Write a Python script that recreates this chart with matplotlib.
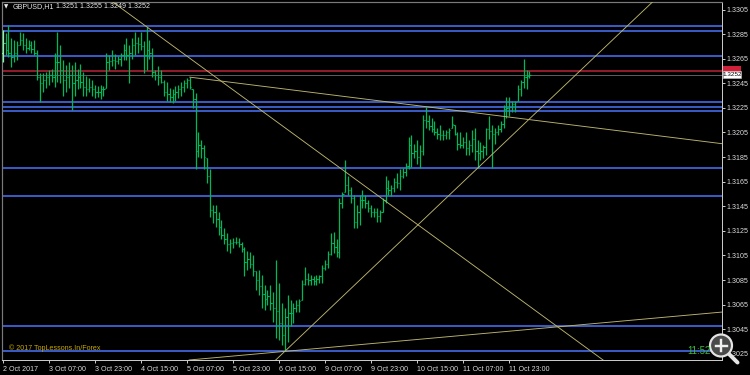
import numpy as np
import matplotlib
matplotlib.use("Agg")
import matplotlib.pyplot as plt
from matplotlib.patches import Circle, Rectangle

# ---------------- data ----------------
title_symbol = "GBPUSD,H1"
title_ohlc = "1.3251 1.3255 1.3249 1.3252"

highs = [
    1.3288, 1.3286, 1.3292, 1.3282, 1.3280, 1.3279, 1.3287, 1.3286, 1.3282, 1.3280,
    1.3279, 1.3280, 1.3272, 1.3253, 1.3253, 1.3254, 1.3256, 1.3257, 1.3270, 1.3287,
    1.3276, 1.3264, 1.3260, 1.3262, 1.3260, 1.3262, 1.3257, 1.3261, 1.3254, 1.3251,
    1.3249, 1.3248, 1.3244, 1.3243, 1.3244, 1.3243, 1.3270, 1.3268, 1.3272, 1.3269,
    1.3267, 1.3270, 1.3277, 1.3282, 1.3276, 1.3282, 1.3287, 1.3283, 1.3287, 1.3279,
    1.3291, 1.3280, 1.3274, 1.3256, 1.3259, 1.3256, 1.3248, 1.3246, 1.3241, 1.3240,
    1.3243, 1.3244, 1.3246, 1.3248, 1.3249, 1.3250, 1.3240, 1.3237, 1.3205, 1.3199,
    1.3195, 1.3184, 1.3175, 1.3146, 1.3146, 1.3140, 1.3134, 1.3127, 1.3123, 1.3118,
    1.3119, 1.3120, 1.3119, 1.3116, 1.3112, 1.3109, 1.3108, 1.3105, 1.3092, 1.3093,
    1.3089, 1.3081, 1.3077, 1.3081, 1.3075, 1.3101, 1.3083, 1.3066, 1.3062, 1.3073,
    1.3069, 1.3066, 1.3069, 1.3070, 1.3085, 1.3096, 1.3091, 1.3089, 1.3088, 1.3089,
    1.3089, 1.3097, 1.3101, 1.3109, 1.3123, 1.3124, 1.3118, 1.3152, 1.3157, 1.3183,
    1.3170, 1.3161, 1.3154, 1.3146, 1.3154, 1.3158, 1.3154, 1.3150, 1.3146, 1.3144,
    1.3144, 1.3142, 1.3152, 1.3170, 1.3166, 1.3162, 1.3168, 1.3172, 1.3175, 1.3176,
    1.3180, 1.3201, 1.3203, 1.3196, 1.3199, 1.3195, 1.3219, 1.3226, 1.3219, 1.3217,
    1.3214, 1.3209, 1.3211, 1.3207, 1.3207, 1.3209, 1.3218, 1.3211, 1.3205, 1.3205,
    1.3201, 1.3205, 1.3199, 1.3207, 1.3209, 1.3199, 1.3197, 1.3195, 1.3209, 1.3218,
    1.3211, 1.3209, 1.3211, 1.3214, 1.3227, 1.3234, 1.3234, 1.3231, 1.3231, 1.3244,
    1.3248, 1.3265, 1.3256, 1.3255,
]
lows = [
    1.3262, 1.3268, 1.3266, 1.3258, 1.3262, 1.3264, 1.3276, 1.3272, 1.3270, 1.3272,
    1.3270, 1.3268, 1.3248, 1.3230, 1.3238, 1.3241, 1.3244, 1.3246, 1.3242, 1.3246,
    1.3245, 1.3235, 1.3238, 1.3241, 1.3223, 1.3235, 1.3240, 1.3241, 1.3235, 1.3235,
    1.3238, 1.3235, 1.3233, 1.3234, 1.3232, 1.3235, 1.3241, 1.3256, 1.3259, 1.3257,
    1.3261, 1.3259, 1.3264, 1.3264, 1.3245, 1.3265, 1.3268, 1.3270, 1.3272, 1.3253,
    1.3256, 1.3265, 1.3250, 1.3248, 1.3244, 1.3245, 1.3235, 1.3231, 1.3230, 1.3229,
    1.3231, 1.3233, 1.3235, 1.3238, 1.3241, 1.3240, 1.3225, 1.3175, 1.3185, 1.3184,
    1.3175, 1.3164, 1.3136, 1.3131, 1.3128, 1.3122, 1.3118, 1.3114, 1.3109, 1.3107,
    1.3111, 1.3114, 1.3112, 1.3108, 1.3088, 1.3093, 1.3095, 1.3088, 1.3077, 1.3073,
    1.3062, 1.3061, 1.3065, 1.3061, 1.3051, 1.3038, 1.3036, 1.3032, 1.3027, 1.3035,
    1.3048, 1.3050, 1.3059, 1.3059, 1.3069, 1.3081, 1.3081, 1.3081, 1.3081, 1.3081,
    1.3083, 1.3083, 1.3093, 1.3095, 1.3105, 1.3107, 1.3104, 1.3103, 1.3144, 1.3157,
    1.3154, 1.3148, 1.3127, 1.3127, 1.3130, 1.3144, 1.3144, 1.3140, 1.3136, 1.3136,
    1.3132, 1.3132, 1.3140, 1.3148, 1.3154, 1.3153, 1.3157, 1.3160, 1.3158, 1.3168,
    1.3170, 1.3175, 1.3177, 1.3184, 1.3179, 1.3176, 1.3187, 1.3209, 1.3207, 1.3205,
    1.3203, 1.3200, 1.3199, 1.3199, 1.3200, 1.3200, 1.3209, 1.3203, 1.3191, 1.3192,
    1.3192, 1.3187, 1.3187, 1.3189, 1.3183, 1.3176, 1.3183, 1.3184, 1.3187, 1.3200,
    1.3176, 1.3196, 1.3203, 1.3205, 1.3209, 1.3217, 1.3218, 1.3222, 1.3222, 1.3231,
    1.3235, 1.3241, 1.3240, 1.3249,
]
closes = [
    1.3278, 1.3272, 1.3270, 1.3266, 1.3270, 1.3276, 1.3280, 1.3276, 1.3274, 1.3276,
    1.3273, 1.3270, 1.3250, 1.3245, 1.3248, 1.3250, 1.3252, 1.3250, 1.3262, 1.3262,
    1.3256, 1.3248, 1.3250, 1.3252, 1.3245, 1.3248, 1.3250, 1.3246, 1.3242, 1.3240,
    1.3242, 1.3240, 1.3238, 1.3238, 1.3240, 1.3240, 1.3262, 1.3263, 1.3264, 1.3263,
    1.3265, 1.3268, 1.3272, 1.3268, 1.3270, 1.3276, 1.3278, 1.3277, 1.3275, 1.3268,
    1.3272, 1.3270, 1.3254, 1.3252, 1.3250, 1.3246, 1.3238, 1.3236, 1.3234, 1.3236,
    1.3238, 1.3240, 1.3242, 1.3245, 1.3248, 1.3242, 1.3232, 1.3190, 1.3195, 1.3192,
    1.3185, 1.3170, 1.3142, 1.3140, 1.3135, 1.3128, 1.3122, 1.3118, 1.3114, 1.3115,
    1.3116, 1.3116, 1.3114, 1.3110, 1.3100, 1.3102, 1.3098, 1.3092, 1.3085, 1.3080,
    1.3074, 1.3070, 1.3072, 1.3066, 1.3062, 1.3060, 1.3050, 1.3040, 1.3055, 1.3058,
    1.3058, 1.3062, 1.3065, 1.3068, 1.3082, 1.3086, 1.3085, 1.3086, 1.3084, 1.3086,
    1.3088, 1.3095, 1.3098, 1.3106, 1.3115, 1.3112, 1.3108, 1.3148, 1.3155, 1.3162,
    1.3158, 1.3152, 1.3132, 1.3140, 1.3150, 1.3150, 1.3148, 1.3144, 1.3140, 1.3140,
    1.3137, 1.3140, 1.3150, 1.3160, 1.3158, 1.3160, 1.3165, 1.3164, 1.3170, 1.3173,
    1.3178, 1.3195, 1.3188, 1.3190, 1.3185, 1.3190, 1.3215, 1.3214, 1.3210, 1.3208,
    1.3205, 1.3204, 1.3203, 1.3203, 1.3205, 1.3207, 1.3212, 1.3204, 1.3196, 1.3195,
    1.3197, 1.3192, 1.3195, 1.3200, 1.3190, 1.3188, 1.3190, 1.3193, 1.3208, 1.3206,
    1.3204, 1.3205, 1.3208, 1.3212, 1.3224, 1.3225, 1.3226, 1.3228, 1.3230, 1.3240,
    1.3246, 1.3250, 1.3251, 1.3252,
]
first_open = 1.3270

blue_levels = [1.32918, 1.32878, 1.32674, 1.32300, 1.32255, 1.32227,
               1.31759, 1.31536, 1.30477, 1.30276]
ask_price = 1.3255
bid_price = 1.3252

# trend lines: two anchors each, (bar index, price)
trend_down = [(50, 1.3291), (208, 1.3021)]
trend_resist = [(65, 1.3250), (147, 1.3226)]
trend_up = [(98, 1.3027), (165, 1.3176)]
trend_flat = [(98, 1.3027), (250, 1.3059)]

date_positions = [0, 16, 32, 48, 64, 80, 96, 112, 128, 144, 160, 176]
date_labels = ["2 Oct 2017", "3 Oct 07:00", "3 Oct 23:00", "4 Oct 15:00",
               "5 Oct 07:00", "5 Oct 23:00", "6 Oct 15:00", "9 Oct 07:00",
               "9 Oct 23:00", "10 Oct 15:00", "11 Oct 07:00", "11 Oct 23:00"]
price_ticks = [1.3025, 1.3045, 1.3065, 1.3085, 1.3105, 1.3125, 1.3145, 1.3165,
               1.3185, 1.3205, 1.3225, 1.3245, 1.3265, 1.3285, 1.3305]

copyright_text = "© 2017 TopLessons.In/Forex"
clock_text = "11:52"

# ---------------- figure ----------------
W, H = 750, 375
fig = plt.figure(figsize=(W / 100, H / 100), dpi=100, facecolor="black")
FONT = "Liberation Sans"
PX = 0.72  # points per pixel
FS = 5.1

L, R, T, B = 2.0, 721.7, 2.0, 360.0
ax = fig.add_axes([L / W, (H - B) / H, (R - L) / W, (B - T) / H])
ax.set_facecolor("black")
ax.set_xlim(-0.24, 249.8)
ax.set_ylim(1.30200, 1.33111)

n = len(highs)
x = np.arange(n)
opens = np.clip(np.array([first_open] + closes[:-1]), lows, highs)
green = "#00b85a"
cols = [green] * n
cols[0] = "#7dffa0"
ax.vlines(x, lows, highs, colors=cols, lw=1.25 * PX, zorder=3)
ax.hlines(opens, x - 0.42, x, colors=cols, lw=1.1 * PX, zorder=3)
ax.hlines(closes, x, x + 0.42, colors=cols, lw=1.1 * PX, zorder=3)

# horizontal levels
for lv in blue_levels:
    ax.axhline(lv, color="#3f63d8", lw=1.8 * PX, zorder=2)
ax.axhline(ask_price, color="#8e1a2a", lw=2.0 * PX, zorder=2)
ax.axhline(bid_price, color="#5a5a5a", lw=1.0 * PX, zorder=2)

# trend lines
tl_col = "#bdb56e"
ax.axline(trend_down[0], trend_down[1], color=tl_col, lw=0.9 * PX, zorder=4)
ax.axline(trend_up[0], trend_up[1], color=tl_col, lw=0.9 * PX, zorder=4)
ax.axline(trend_flat[0], trend_flat[1], color=tl_col, lw=0.9 * PX, zorder=4)
(x1, y1), (x2, y2) = trend_resist
slope = (y2 - y1) / (x2 - x1)
ax.plot([x1, 260], [y1, y1 + slope * (260 - x1)], color=tl_col,
        lw=0.9 * PX, zorder=4)

# axes styling
for s in ["left", "top"]:
    ax.spines[s].set_color("#7a7a7a")
    ax.spines[s].set_linewidth(1.2 * PX)
for s in ["right", "bottom"]:
    ax.spines[s].set_color("#c8c8c8")
    ax.spines[s].set_linewidth(1.0 * PX)

ax.yaxis.tick_right()
ax.set_yticks(price_ticks)
ax.set_yticklabels([f"{p:.4f}" for p in price_ticks])
ax.set_xticks(date_positions)
ax.set_xticklabels(date_labels)
ax.tick_params(axis="both", colors="#c8c8c8", labelcolor="#dcdcdc",
               labelsize=FS, length=3 * PX, width=1.0 * PX, direction="out")
ax.tick_params(axis="y", pad=1.5)
ax.tick_params(axis="x", pad=2.0)
for lbl in ax.get_xticklabels() + ax.get_yticklabels():
    lbl.set_fontfamily(FONT)
for lbl in ax.get_xticklabels():
    lbl.set_horizontalalignment("left")

# ---------------- overlay in pixel coordinates ----------------
ov = fig.add_axes([0, 0, 1, 1], zorder=10)
ov.set_xlim(0, W)
ov.set_ylim(H, 0)
ov.axis("off")
ov.patch.set_alpha(0)

ov.text(6.5, 7.0, "▼", color="#e8e8e8", fontsize=4.0, ha="center",
        va="center", family="DejaVu Sans")
ov.text(13, 7.0, title_symbol, color="#e8e8e8", fontsize=FS, ha="left",
        va="center", family=FONT)
ov.text(56.5, 7.0, title_ohlc, color="#e8e8e8", fontsize=FS, ha="left",
        va="center", family=FONT)

ov.text(9.3, 348.3, copyright_text, color="#c9a800", fontsize=FS,
        ha="left", va="center", family=FONT)
ov.text(687.5, 350.7, clock_text, color="#3dbb3d", fontsize=7.0,
        ha="left", va="center", family=FONT)

# ask / bid price boxes on the price scale
ov.add_patch(Rectangle((722.5, 66.0), 18.5, 6.0, facecolor="#d0203a",
                       edgecolor="none"))
ov.add_patch(Rectangle((722.5, 70.8), 18.5, 7.4, facecolor="white",
                       edgecolor="#c8c8c8", lw=0.5 * PX))
ov.text(731.8, 74.6, f"{bid_price:.4f}", color="black", fontsize=4.6,
        ha="center", va="center", family=FONT)

# magnifier icon
ov.plot([729.5, 737.5], [354.5, 362.5], color="#e4e4e4", lw=4.0 * PX,
        solid_capstyle="round")
ov.add_patch(Circle((721, 345.5), 11, facecolor="#4a4a4a",
                    edgecolor="#e4e4e4", lw=2.2 * PX))
ov.plot([715.5, 726.5], [345.5, 345.5], color="#f0f0f0", lw=2.4 * PX)
ov.plot([721, 721], [340, 351], color="#f0f0f0", lw=2.4 * PX)

fig.savefig("out.png", dpi=100, facecolor="black")
